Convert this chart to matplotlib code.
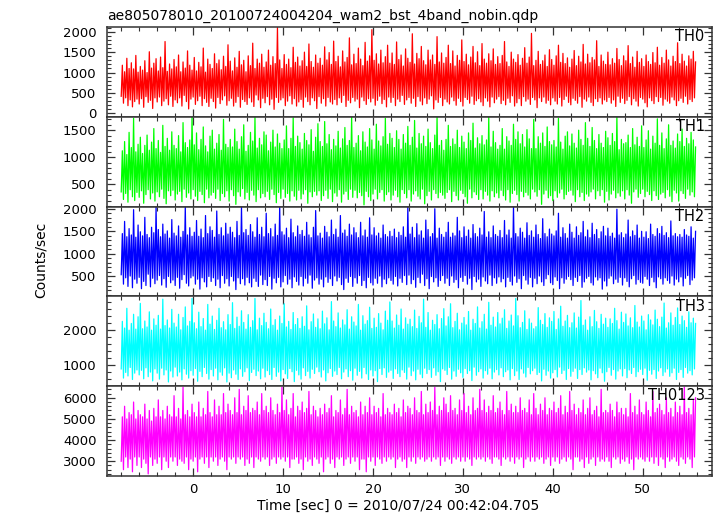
import numpy as np
import matplotlib.pyplot as plt
from matplotlib.ticker import MultipleLocator

plt.rcParams['font.family'] = ['DejaVu Sans']

title = "ae805078010_20100724004204_wam2_bst_4band_nobin.qdp"
xlabel = "Time [sec] 0 = 2010/07/24 00:42:04.705"
ylabel = "Counts/sec"
t_start, t_stop = -8.0, 56.0

th0 = [
    420, 1180, 250, 1020, 380, 1350, 190, 1100, 330, 1240, 160, 1090, 290, 1420, 350, 1010,
    230, 1150, 360, 1060, 150, 1290, 410, 1000, 270, 1510, 320, 1110, 120, 1230, 380, 1340,
    280, 1040, 400, 1380, 190, 1120, 300, 1760, 360, 1030, 210, 1210, 420, 1090, 170, 1320,
    330, 1140, 260, 1430, 380, 1020, 180, 1260, 440, 1110, 290, 1530, 110, 1180, 350, 1060,
    400, 1370, 220, 1040, 310, 1250, 420, 1140, 190, 1600, 360, 1010, 270, 1330, 170, 1200,
    370, 1100, 290, 1460, 130, 1220, 390, 1310, 240, 1070, 330, 1400, 430, 1150, 200, 1680,
    310, 1280, 370, 1040, 180, 1360, 270, 1130, 410, 1520, 150, 1190, 340, 1300, 290, 1020,
    220, 1410, 380, 1170, 280, 1720, 170, 1100, 450, 1330, 330, 1230, 140, 1450, 370, 1130,
    260, 1260, 410, 1550, 210, 1180, 350, 1390, 100, 1220, 390, 2100, 270, 1310, 330, 1100,
    380, 1440, 190, 1200, 300, 1330, 430, 1120, 230, 1620, 360, 1250, 180, 1380, 280, 1160,
    340, 1290, 150, 1500, 400, 1150, 290, 1700, 210, 1270, 380, 1130, 310, 1430, 120, 1230,
    410, 1350, 250, 1180, 360, 1630, 180, 1310, 390, 1490, 280, 1200, 230, 1770, 340, 1270,
    210, 1400, 380, 1140, 270, 1530, 440, 1260, 170, 1370, 320, 1850, 260, 1190, 390, 1450,
    300, 1220, 350, 1600, 140, 1330, 400, 1170, 310, 1740, 220, 1280, 360, 1410, 280, 2050,
    370, 1300, 200, 1460, 320, 1210, 420, 1550, 240, 1240, 340, 1390, 160, 1670, 400, 1230,
    270, 1480, 390, 1200, 190, 1750, 350, 1320, 290, 1430, 440, 1160, 220, 1580, 330, 1350,
    390, 1250, 250, 1950, 370, 1210, 170, 1470, 410, 1340, 300, 1640, 210, 1290, 380, 1190,
    240, 1550, 350, 1310, 430, 1430, 110, 1200, 330, 1880, 270, 1260, 390, 1480, 190, 1230,
    350, 1370, 280, 1670, 230, 1220, 400, 1530, 310, 1160, 200, 1420, 370, 1300, 290, 1800,
    180, 1270, 390, 1450, 340, 1190, 250, 1380, 420, 1640, 220, 1240, 310, 1510, 360, 1170,
    280, 1710, 190, 1330, 380, 1230, 300, 1460, 160, 1290, 400, 1580, 260, 1200, 350, 1390,
    410, 1220, 240, 1420, 320, 1760, 210, 1260, 370, 1150, 270, 1500, 430, 1330, 180, 1250,
    260, 1440, 360, 1180, 190, 1350, 410, 1610, 300, 1230, 350, 1380, 220, 1960, 390, 1170,
    330, 1300, 140, 1520, 380, 1200, 290, 1290, 400, 1430, 250, 1150, 320, 1560, 210, 1320,
    380, 1180, 300, 1410, 230, 1670, 390, 1250, 180, 1470, 340, 1220, 420, 1360, 270, 1130,
    210, 1330, 370, 1540, 320, 1170, 250, 1400, 410, 1260, 150, 1690, 350, 1210, 300, 1450,
    400, 1240, 270, 1370, 190, 1310, 360, 1780, 290, 1150, 380, 1430, 230, 1280, 330, 1200,
    290, 1500, 390, 1190, 250, 1340, 330, 1230, 170, 1590, 420, 1320, 270, 1170, 370, 1410,
    240, 1290, 320, 1660, 410, 1220, 210, 1380, 360, 1130, 300, 1520, 180, 1250, 390, 1340,
    350, 1150, 260, 1430, 160, 1270, 380, 1200, 310, 1490, 240, 1240, 410, 1620, 290, 1180,
    390, 1370, 200, 1230, 350, 1550, 300, 1310, 250, 1160, 400, 1400, 330, 1270, 190, 1730,
    310, 1220, 370, 1450, 270, 1280, 420, 1160, 230, 1410, 340, 1330, 290, 1520, 380, 1260,
]
th1 = [
    360, 1120, 220, 1290, 330, 1050, 170, 1460, 400, 1180, 270, 1720, 200, 1100, 350, 1240,
    260, 1370, 380, 1070, 150, 1220, 310, 1410, 400, 1130, 230, 1280, 340, 1530, 190, 1160,
    360, 1310, 270, 1090, 410, 1590, 240, 1200, 140, 1350, 380, 1130, 290, 1470, 390, 1220,
    210, 1160, 320, 1400, 370, 1100, 180, 1640, 410, 1270, 260, 1180, 340, 1320, 230, 1750,
    400, 1230, 280, 1450, 200, 1140, 370, 1330, 310, 1560, 160, 1210, 410, 1100, 250, 1390,
    300, 1500, 350, 1150, 240, 1260, 410, 1420, 200, 1130, 330, 1700, 270, 1240, 380, 1180,
    190, 1330, 400, 1190, 290, 1520, 130, 1290, 360, 1150, 280, 1380, 420, 1600, 230, 1110,
    350, 1220, 210, 1460, 390, 1300, 300, 1740, 180, 1170, 400, 1350, 250, 1230, 330, 1470,
    270, 1410, 370, 1120, 220, 1280, 410, 1500, 310, 1190, 160, 1430, 350, 1260, 240, 1160,
    410, 1320, 260, 1580, 330, 1160, 190, 1350, 380, 1730, 280, 1200, 210, 1390, 390, 1270,
    230, 1150, 320, 1440, 400, 1310, 150, 1230, 360, 1510, 270, 1110, 370, 1370, 300, 1620,
    380, 1290, 200, 1200, 290, 1660, 390, 1250, 240, 1420, 410, 1140, 180, 1330, 340, 1210,
    280, 1480, 400, 1170, 170, 1340, 320, 1550, 370, 1220, 220, 1310, 410, 1750, 260, 1180,
    390, 1260, 250, 1400, 350, 1120, 290, 1470, 120, 1280, 370, 1190, 270, 1530, 200, 1320,
    320, 1150, 410, 1610, 230, 1300, 350, 1210, 400, 1380, 190, 1720, 310, 1240, 360, 1440,
    210, 1350, 300, 1180, 390, 1490, 270, 1330, 170, 1150, 400, 1420, 330, 1260, 250, 1570,
    400, 1220, 190, 1370, 320, 1680, 380, 1170, 280, 1440, 230, 1250, 410, 1390, 140, 1200,
    290, 1520, 370, 1270, 210, 1160, 400, 1410, 330, 1750, 250, 1220, 350, 1310, 300, 1130,
    240, 1330, 350, 1590, 400, 1200, 180, 1340, 370, 1240, 290, 1500, 210, 1180, 390, 1390,
    330, 1280, 270, 1160, 150, 1450, 410, 1310, 250, 1630, 360, 1170, 310, 1360, 220, 1250,
    400, 1400, 230, 1230, 370, 1320, 300, 1740, 190, 1190, 380, 1480, 270, 1270, 340, 1150,
    250, 1220, 390, 1530, 290, 1150, 210, 1380, 400, 1300, 170, 1220, 330, 1610, 390, 1330,
    310, 1470, 190, 1250, 370, 1420, 270, 1190, 350, 1510, 300, 1340, 230, 1160, 410, 1700,
    360, 1160, 280, 1380, 400, 1260, 130, 1450, 320, 1200, 390, 1560, 250, 1290, 290, 1230,
    200, 1310, 380, 1190, 260, 1720, 340, 1280, 410, 1150, 230, 1390, 310, 1470, 370, 1210,
    390, 1430, 300, 1260, 180, 1170, 400, 1500, 270, 1330, 350, 1220, 200, 1640, 320, 1350,
    280, 1200, 360, 1550, 410, 1310, 230, 1160, 380, 1420, 290, 1260, 400, 1180, 170, 1480,
    370, 1360, 210, 1220, 320, 1440, 390, 1290, 250, 1750, 340, 1140, 280, 1330, 380, 1250,
    230, 1270, 400, 1410, 300, 1180, 150, 1530, 360, 1230, 410, 1370, 260, 1200, 330, 1580,
    410, 1180, 270, 1320, 370, 1490, 310, 1150, 200, 1390, 380, 1260, 290, 1710, 220, 1220,
    320, 1450, 350, 1160, 250, 1340, 400, 1600, 280, 1220, 180, 1300, 390, 1170, 340, 1430,
    190, 1290, 380, 1520, 330, 1200, 240, 1350, 410, 1250, 300, 1460, 360, 1320, 270, 1190,
]
th2 = [
    540, 1450, 330, 1720, 470, 1380, 280, 1560, 510, 1420, 250, 1980, 440, 1370, 350, 1640,
    480, 1490, 230, 1400, 390, 1810, 300, 1430, 550, 1360, 270, 1590, 460, 1470, 340, 2050,
    420, 1540, 520, 1380, 310, 1660, 450, 1440, 260, 1510, 500, 1350, 360, 1760, 420, 1460,
    300, 1400, 480, 1620, 240, 1370, 430, 1500, 540, 2050, 350, 1420, 290, 1580, 470, 1390,
    510, 1480, 330, 1740, 440, 1390, 220, 1550, 470, 1360, 380, 1850, 270, 1450, 500, 1600,
    390, 1520, 470, 1370, 300, 1950, 440, 1430, 250, 1580, 520, 1400, 350, 1680, 450, 1440,
    290, 1590, 500, 1480, 400, 1360, 210, 1720, 470, 1410, 340, 2050, 450, 1470, 310, 1540,
    480, 1410, 360, 1650, 270, 1490, 460, 1370, 390, 1800, 280, 1430, 530, 1590, 320, 1380,
    430, 1900, 300, 1450, 500, 1560, 220, 1380, 460, 1660, 360, 1410, 480, 2050, 270, 1490,
    380, 1420, 520, 1570, 330, 1360, 440, 1770, 250, 1470, 490, 1380, 390, 1620, 310, 1430,
    500, 1520, 290, 1390, 460, 1700, 350, 1420, 530, 1360, 240, 1590, 420, 1960, 470, 1400,
    330, 1460, 440, 1350, 270, 1610, 490, 1480, 370, 1380, 450, 1750, 300, 1430, 510, 1550,
    400, 1370, 480, 1850, 320, 1460, 210, 1530, 460, 1390, 370, 1660, 500, 1420, 280, 1580,
    470, 1470, 350, 1360, 520, 1700, 300, 1400, 410, 1530, 250, 1370, 480, 1800, 360, 1420,
    310, 1580, 460, 1400, 350, 1460, 510, 1350, 270, 1640, 440, 1430, 340, 1380, 470, 1500,
    410, 1390, 330, 1550, 500, 1360, 290, 1480, 460, 1410, 370, 1600, 520, 1370, 320, 2050,
    530, 1440, 340, 1590, 430, 1360, 260, 1670, 480, 1420, 360, 1510, 550, 1350, 300, 1750,
    450, 1540, 230, 1380, 500, 1450, 380, 2000, 470, 1350, 280, 1570, 410, 1430, 520, 1370,
    350, 1480, 460, 1700, 300, 1370, 510, 1460, 370, 1400, 430, 1810, 250, 1510, 480, 1360,
    390, 1600, 520, 1390, 330, 1530, 460, 1350, 210, 1650, 500, 1450, 380, 1380, 440, 1570,
    280, 1420, 490, 1940, 400, 1370, 340, 1490, 530, 1360, 300, 1620, 470, 1430, 350, 1390,
    490, 1520, 380, 1360, 450, 1740, 270, 1420, 480, 1530, 390, 1350, 310, 2050, 510, 1450,
    370, 1380, 450, 1570, 230, 1480, 520, 1350, 420, 1690, 330, 1410, 480, 1510, 270, 1370,
    460, 1640, 340, 1430, 510, 1340, 380, 1780, 300, 1450, 450, 1380, 540, 1550, 360, 1440,
    320, 1400, 490, 1510, 410, 1900, 230, 1370, 470, 1580, 350, 1450, 440, 1350, 500, 1660,
    430, 1480, 300, 1350, 480, 1600, 390, 1410, 520, 1470, 260, 1720, 380, 1380, 460, 1530,
    500, 1360, 360, 1680, 310, 1430, 490, 1540, 420, 1340, 470, 1490, 220, 1610, 400, 1400,
    290, 1570, 460, 1390, 510, 1460, 340, 1350, 440, 1990, 370, 1420, 480, 1470, 310, 1360,
    470, 1440, 390, 1750, 270, 1380, 450, 1510, 520, 1410, 330, 1640, 430, 1350, 370, 1500,
    350, 1370, 500, 1490, 440, 1340, 300, 1660, 480, 1430, 380, 1390, 250, 1560, 490, 1450,
    450, 1610, 330, 1410, 470, 1470, 410, 1360, 350, 1730, 510, 1400, 310, 1450, 440, 1380,
    380, 1430, 490, 1370, 290, 1540, 460, 1420, 520, 1390, 320, 1600, 420, 1350, 470, 1500,
]
th3 = [
    900, 2250, 640, 2060, 800, 2620, 700, 2000, 940, 2190, 600, 2450, 780, 2030, 870, 2380,
    730, 2760, 860, 2040, 620, 2260, 930, 2090, 680, 2520, 810, 2000, 560, 2320, 900, 2140,
    780, 2420, 610, 2030, 920, 2880, 730, 2130, 870, 2290, 530, 2060, 840, 2590, 670, 2200,
    950, 2090, 700, 2450, 810, 2010, 590, 2360, 900, 2660, 750, 2120, 640, 2250, 850, 2900,
    720, 2210, 910, 2040, 550, 2510, 830, 2100, 680, 2330, 940, 2000, 770, 2730, 610, 2170,
    880, 2400, 700, 2020, 920, 2280, 590, 2620, 810, 2070, 720, 2240, 930, 2010, 530, 2440,
    780, 2160, 650, 2780, 870, 2050, 750, 2370, 600, 2110, 900, 2550, 690, 2220, 820, 2030,
    930, 2440, 570, 2080, 800, 2270, 890, 2900, 710, 2010, 840, 2340, 620, 2130, 920, 2480,
    670, 2220, 850, 2040, 740, 2600, 600, 2140, 940, 2300, 690, 2000, 810, 2400, 560, 2190,
    880, 2750, 760, 2090, 630, 2250, 910, 2020, 820, 2500, 540, 2160, 860, 2330, 730, 2050,
    610, 2380, 930, 2110, 710, 2690, 830, 2010, 640, 2240, 890, 2460, 770, 2080, 950, 2320,
    820, 2040, 670, 2540, 870, 2180, 560, 2350, 790, 2010, 910, 2810, 690, 2260, 840, 2100,
    740, 2490, 940, 2060, 620, 2290, 810, 2150, 900, 2580, 680, 2030, 850, 2380, 580, 2230,
    920, 2120, 720, 2730, 830, 2000, 640, 2410, 940, 2170, 760, 2270, 600, 2650, 870, 2050,
    700, 2340, 850, 2080, 540, 2470, 910, 2200, 740, 2010, 930, 2540, 660, 2280, 810, 2800,
    860, 2260, 630, 2060, 900, 2430, 770, 2140, 680, 2600, 870, 2030, 800, 2350, 610, 2170,
    950, 2310, 710, 2100, 840, 2570, 590, 2050, 890, 2390, 750, 2210, 650, 2880, 920, 2080,
    770, 2500, 880, 2000, 660, 2280, 930, 2160, 720, 2440, 820, 2040, 540, 2330, 900, 2610,
    860, 2120, 740, 2380, 940, 2750, 610, 2070, 840, 2250, 690, 2480, 890, 2010, 790, 2200,
    660, 2360, 910, 2150, 770, 2530, 850, 2000, 570, 2310, 950, 2190, 720, 2660, 820, 2060,
    900, 2240, 640, 2450, 850, 2030, 750, 2790, 920, 2140, 620, 2370, 810, 2090, 880, 2500,
    730, 2180, 930, 2340, 680, 2580, 820, 2050, 870, 2260, 590, 2430, 910, 2120, 710, 2900,
    840, 2410, 600, 2070, 900, 2220, 780, 2550, 670, 2020, 940, 2320, 760, 2200, 850, 2040,
    920, 2100, 740, 2640, 800, 2280, 560, 2160, 890, 2470, 720, 2080, 840, 2350, 640, 2250,
    790, 2530, 880, 2020, 670, 2320, 950, 2680, 770, 2110, 860, 2260, 600, 2420, 910, 2070,
    690, 2210, 830, 2490, 920, 2060, 630, 2370, 880, 2840, 740, 2140, 930, 2290, 810, 2000,
    870, 2380, 590, 2100, 850, 2560, 760, 2240, 650, 2050, 920, 2450, 790, 2170, 550, 2340,
    820, 2080, 940, 2320, 720, 2190, 880, 2620, 610, 2270, 840, 2030, 900, 2510, 700, 2220,
    910, 2460, 650, 2120, 870, 2350, 770, 2070, 940, 2700, 680, 2230, 820, 2090, 890, 2400,
    740, 2260, 920, 2010, 580, 2440, 860, 2290, 750, 2150, 880, 2570, 630, 2310, 840, 2100,
    930, 2370, 710, 2770, 810, 2060, 900, 2210, 690, 2490, 790, 2140, 920, 2360, 600, 2630,
    800, 2160, 880, 2400, 660, 2270, 940, 2080, 780, 2520, 850, 2210, 730, 2340, 900, 2190,
]
th0123 = [
    3000, 5100, 2600, 5600, 3200, 5000, 2700, 5300, 3100, 5200, 2500, 5800, 3200, 5000, 2800, 5400,
    3200, 5200, 2700, 5100, 3100, 5700, 2900, 5000, 2400, 5400, 3200, 4900, 2800, 5500, 3100, 5100,
    2900, 5900, 3200, 5100, 2600, 5400, 3200, 5000, 3000, 5600, 2700, 5200, 3200, 5100, 3000, 6100,
    3200, 5100, 2800, 5500, 3100, 5000, 3000, 6500, 2900, 5200, 3200, 5400, 2600, 5100, 3100, 5700,
    3000, 5300, 3200, 5100, 2500, 5800, 3100, 5100, 3200, 5500, 2900, 5200, 3200, 6300, 2700, 5300,
    3200, 5100, 3000, 5900, 3200, 5200, 2800, 5600, 3100, 5200, 3200, 6200, 3000, 5300, 2600, 5700,
    3200, 5400, 3100, 5200, 3200, 6000, 2900, 5300, 3200, 6400, 3100, 5200, 3200, 5600, 2800, 5400,
    3100, 6100, 2900, 5300, 3200, 5500, 2700, 5400, 3200, 5800, 3100, 5200, 3000, 6200, 3200, 5400,
    3100, 5600, 3200, 5300, 2800, 6000, 3100, 5400, 3200, 5200, 2900, 5700, 3200, 5300, 3100, 6500,
    3200, 5400, 3000, 5900, 3200, 5200, 2700, 5500, 3100, 6200, 3100, 5100, 3200, 5600, 2900, 5400,
    3100, 5800, 2600, 5300, 3200, 5500, 3000, 6300, 3100, 5200, 2800, 5600, 3200, 5400, 3100, 5100,
    2900, 5500, 3200, 5200, 2500, 5700, 3100, 5300, 3200, 5500, 2900, 6100, 3100, 5100, 2700, 5400,
    3200, 5300, 3100, 5900, 3200, 5200, 2800, 5500, 3100, 6400, 3200, 5200, 2900, 5600, 3200, 5300,
    3000, 5400, 3200, 5100, 2600, 5800, 3100, 5200, 3100, 5600, 2500, 5300, 3200, 6000, 3000, 5200,
    3200, 5600, 2800, 5300, 3200, 5500, 3100, 5100, 2900, 6200, 3200, 5200, 3000, 5500, 3200, 5300,
    3100, 5200, 3200, 5700, 2700, 5300, 3100, 5500, 3200, 5100, 3000, 5900, 3100, 5300, 2700, 5600,
    3200, 5500, 3000, 5200, 3200, 6000, 2900, 5400, 3200, 5300, 3100, 6300, 3200, 5200, 3000, 5700,
    3100, 5300, 3200, 5800, 3000, 5400, 3200, 6500, 3100, 5200, 3200, 5600, 2800, 5400, 3200, 6000,
    3000, 5700, 3200, 5300, 3100, 6100, 2900, 5400, 3200, 5500, 3100, 5200, 3200, 5900, 3000, 5400,
    3200, 6200, 3000, 5300, 3200, 5600, 3100, 5200, 2800, 6000, 3200, 5400, 3100, 5500, 3200, 6400,
    3100, 5400, 3200, 5900, 3000, 5300, 3200, 5600, 3100, 5400, 2900, 6100, 3200, 5300, 3200, 5500,
    3100, 5800, 2800, 5400, 3200, 5200, 3100, 6300, 3200, 5400, 3000, 5700, 3200, 5300, 2900, 5600,
    3200, 5300, 3100, 6000, 3200, 5400, 2700, 5500, 3100, 5300, 3200, 5900, 3000, 5200, 3200, 6200,
    3000, 5500, 3200, 5200, 3100, 5700, 3200, 5400, 2900, 6000, 3100, 5200, 3200, 5500, 2800, 5400,
    3200, 5800, 3000, 5300, 3200, 5500, 2900, 6100, 3100, 5200, 3200, 5600, 3000, 5300, 3200, 6300,
    3100, 5400, 2600, 5700, 3200, 5200, 3200, 5500, 3000, 5300, 3100, 5900, 2700, 5200, 3200, 5500,
    2900, 6000, 3100, 5200, 3200, 5400, 2800, 5600, 3200, 5100, 3000, 6400, 3100, 5300, 3000, 5400,
    3200, 5300, 3000, 5700, 2700, 5400, 3200, 5100, 3100, 5800, 3200, 5300, 2900, 5500, 3100, 5200,
    3000, 5500, 3200, 5100, 2900, 6200, 3100, 5300, 2600, 5600, 3200, 5200, 3100, 5900, 3200, 5300,
    3100, 5200, 3000, 5800, 3200, 5400, 3000, 5100, 3200, 6300, 2900, 5300, 3200, 5500, 2800, 5700,
    3200, 5400, 3100, 5200, 2700, 6000, 3200, 5300, 3000, 5500, 3100, 5100, 3200, 5800, 3000, 5300,
    2800, 5600, 3200, 5200, 3100, 6500, 2900, 5300, 3200, 5500, 3100, 5200, 2700, 5900, 3200, 6000,
]

series = [th0, th1, th2, th3, th0123]
names = ["TH0", "TH1", "TH2", "TH3", "TH0123"]
colors = ["#ff0000", "#00ff00", "#0000ff", "#00ffff", "#ff00ff"]
ylims = [(-80, 2120), (90, 1750), (60, 2050), (410, 2960), (2300, 6550)]
major = [500, 500, 500, 1000, 1000]
minor = [100, 100, 100, 200, 200]

fig = plt.figure(figsize=(7.17, 5.16), dpi=100)
gs = fig.add_gridspec(5, 1, left=0.149, right=0.993, top=0.948, bottom=0.0775, hspace=0)

ax0 = None
for i, y in enumerate(series):
    ax = fig.add_subplot(gs[i], sharex=ax0)
    if ax0 is None:
        ax0 = ax
    t = np.linspace(t_start, t_stop, len(y), endpoint=False)
    ax.plot(t, y, color=colors[i], lw=0.9)
    ax.set_ylim(*ylims[i])
    ax.set_xlim(-9.6, 57.7)
    ax.yaxis.set_major_locator(MultipleLocator(major[i]))
    ax.yaxis.set_minor_locator(MultipleLocator(minor[i]))
    ax.xaxis.set_major_locator(MultipleLocator(10))
    ax.xaxis.set_minor_locator(MultipleLocator(2))
    ax.tick_params(which="both", direction="in", top=True, right=True, color="#333333")
    ax.tick_params(which="major", length=5.5, width=0.9, labelsize=9.5, pad=5)
    ax.tick_params(which="minor", length=3, width=0.8)
    ax.tick_params(axis="y", which="major", pad=7.5)
    for s in ax.spines.values():
        s.set_color("#333333")
        s.set_linewidth(1.1)
    if i < len(series) - 1:
        ax.tick_params(labelbottom=False)
    ax.text(0.988, 0.975, names[i], transform=ax.transAxes, ha="right", va="top", fontsize=10.5)

fig.text(0.149, 0.962, title, fontsize=10, ha="left", va="baseline")
fig.text(398 / 717, 1 - 510 / 516, xlabel, fontsize=10, ha="center", va="baseline")
fig.text(41 / 717, 0.496, ylabel, fontsize=10, rotation=90, ha="center", va="center")

fig.savefig("out.png", dpi=100)
